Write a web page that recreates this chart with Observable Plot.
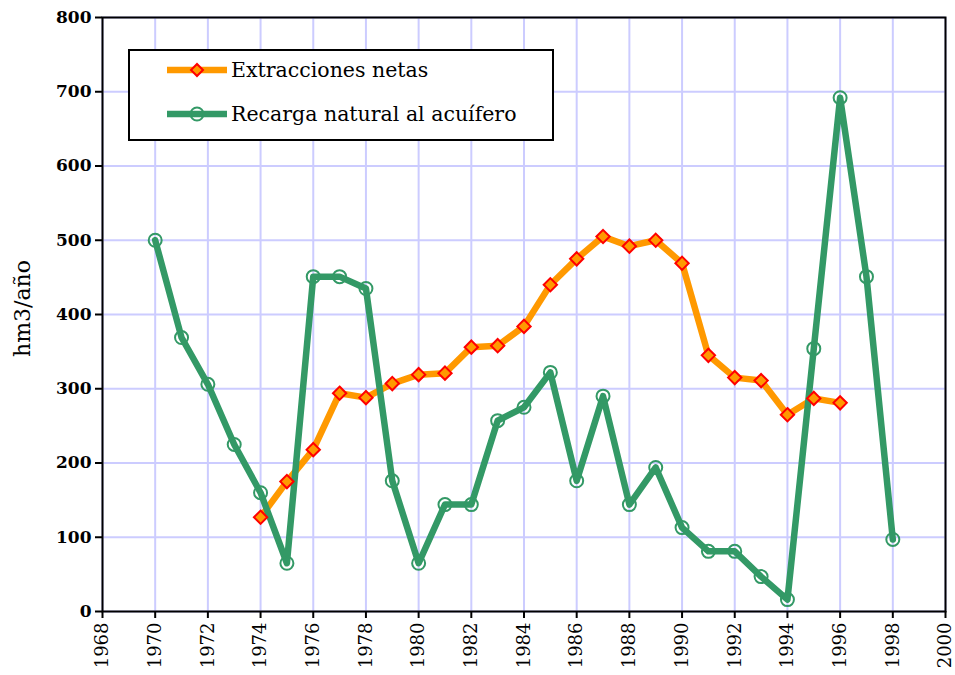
<!DOCTYPE html>
<html>
<head>
<meta charset="utf-8">
<script src="https://cdn.jsdelivr.net/npm/d3@7"></script>
<script src="https://cdn.jsdelivr.net/npm/@observablehq/plot@0.6"></script>
<style>
  html, body { margin: 0; padding: 0; background: #fff; }
  #chart svg { display: block; }
</style>
</head>
<body>
<div id="chart"></div>
<script>
const extYears = [1974,1975,1976,1977,1978,1979,1980,1981,1982,1983,1984,1985,1986,1987,1988,1989,1990,1991,1992,1993,1994,1995,1996];
const extValues = [127,175,218,294,288,307,319,321,356,358,384,440,475,505,492,500,469,345,315,311,265,287,281];
const recYears = [1970,1971,1972,1973,1974,1975,1976,1977,1978,1979,1980,1981,1982,1983,1984,1985,1986,1987,1988,1989,1990,1991,1992,1993,1994,1995,1996,1997,1998];
const recValues = [500,369,306,225,160,65,451,451,435,176,65,144,144,257,275,322,176,290,144,194,113,81,81,47,16,354,692,451,97];
const xTicks = [1968,1970,1972,1974,1976,1978,1980,1982,1984,1986,1988,1990,1992,1994,1996,1998,2000];
const yTicks = [0,100,200,300,400,500,600,700,800];
const seriesNames = ["Extracciones netas", "Recarga natural al acuífero"];
const yLabel = "hm3/año";

const ext = extYears.map((y, i) => ({year: y, value: extValues[i]}));
const rec = recYears.map((y, i) => ({year: y, value: recValues[i]}));

const GREEN = "#339966", ORANGE = "#ff9900", RED = "#ff0000", GRID = "#ccccff";
const FONT = "DejaVu Serif";

const svg = Plot.plot({
  width: 955,
  height: 675,
  marginLeft: 102,
  marginRight: 10,
  marginTop: 17,
  marginBottom: 64,
  style: {fontFamily: FONT, background: "#fff"},
  x: {domain: [1968, 2000]},
  y: {domain: [0, 800]},
  marks: [
    Plot.gridX(xTicks, {stroke: GRID, strokeOpacity: 1, strokeWidth: 2}),
    Plot.gridY(yTicks, {stroke: GRID, strokeOpacity: 1, strokeWidth: 2}),
    Plot.axisY(yTicks, {tickSize: 7, strokeWidth: 2, fontSize: 17, fontWeight: "bold", fill: "#000", label: null, tickPadding: 4}),
    Plot.axisX(xTicks, {tickSize: 7, strokeWidth: 2, fontSize: 18, fill: "#000", tickRotate: -90, tickFormat: d => String(d), label: null, tickPadding: 4}),
    Plot.text([yLabel], {frameAnchor: "left", textAnchor: "middle", dx: -80, dy: -6, rotate: -90, fontSize: 22, fill: "#000", fontFamily: FONT}),
    Plot.frame({stroke: "#000", strokeWidth: 2}),
    Plot.line(ext, {x: "year", y: "value", stroke: ORANGE, strokeWidth: 6.5}),
    Plot.line(rec, {x: "year", y: "value", stroke: GREEN, strokeWidth: 6.5}),
    Plot.dot(rec, {x: "year", y: "value", r: 6.5, stroke: GREEN, strokeWidth: 2, fill: "none"}),
    Plot.dot(ext, {x: "year", y: "value", r: 6, symbol: "diamond2", stroke: RED, strokeWidth: 2, fill: ORANGE})
  ]
});

// Legend box inside the plot area
const g = d3.select(svg).append("g").attr("font-family", FONT).attr("text-anchor", "start");
g.append("rect").attr("x", 129).attr("y", 50).attr("width", 424).attr("height", 90)
  .attr("fill", "#fff").attr("stroke", "#000").attr("stroke-width", 2);
const items = [
  {name: seriesNames[0], color: ORANGE, y: 70, sym: "diamond"},
  {name: seriesNames[1], color: GREEN, y: 114, sym: "circle"}
];
items.forEach(it => {
  g.append("line").attr("x1", 167).attr("x2", 227).attr("y1", it.y).attr("y2", it.y)
    .attr("stroke", it.color).attr("stroke-width", 6.5);
  if (it.sym === "diamond") {
    g.append("path").attr("transform", `translate(197,${it.y}) rotate(45)`)
      .attr("d", d3.symbol(d3.symbolSquare, 72)())
      .attr("fill", ORANGE).attr("stroke", RED).attr("stroke-width", 2);
  } else {
    g.append("circle").attr("cx", 197).attr("cy", it.y).attr("r", 6.5)
      .attr("fill", "none").attr("stroke", GREEN).attr("stroke-width", 2);
  }
  g.append("text").attr("x", 231).attr("y", it.y).attr("dy", "0.35em")
    .attr("font-size", 20.5).attr("fill", "#000").text(it.name);
});

document.getElementById("chart").appendChild(svg);
</script>
</body>
</html>
